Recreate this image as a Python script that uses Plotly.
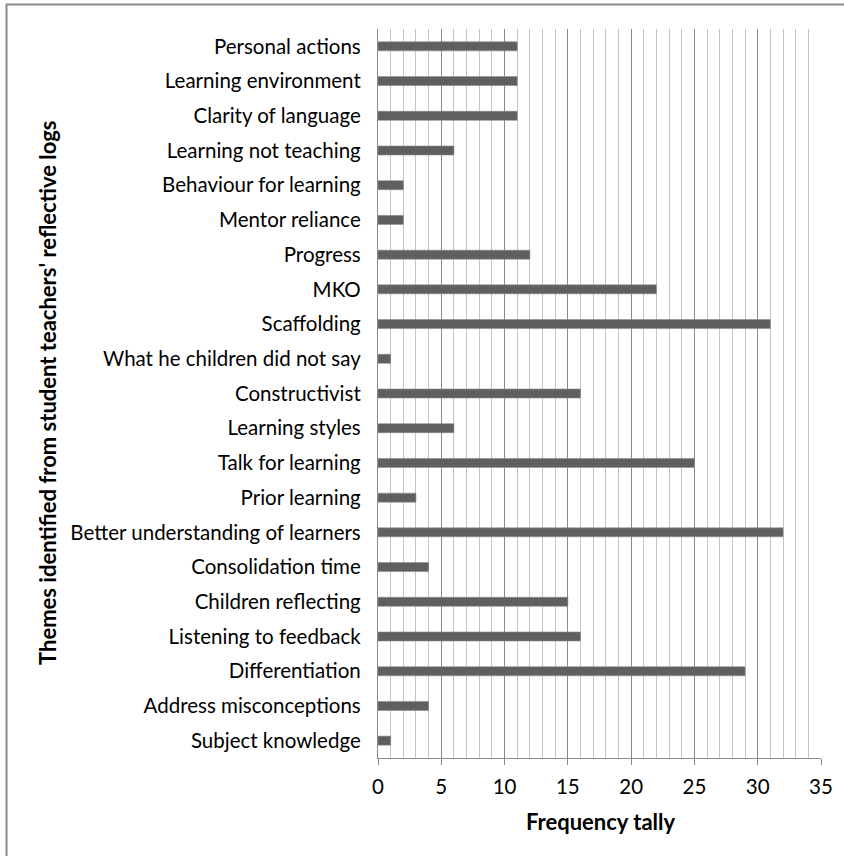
import plotly.graph_objects as go

# Themes, listed top to bottom as they appear on the chart
themes = [
    "Personal actions",
    "Learning environment",
    "Clarity of language",
    "Learning not teaching",
    "Behaviour for learning",
    "Mentor reliance",
    "Progress",
    "MKO",
    "Scaffolding",
    "What he children did not say",
    "Constructivist",
    "Learning styles",
    "Talk for learning",
    "Prior learning",
    "Better understanding of learners",
    "Consolidation time",
    "Children reflecting",
    "Listening to feedback",
    "Differentiation",
    "Address misconceptions",
    "Subject knowledge",
]
tally = [11, 11, 11, 6, 2, 2, 12, 22, 31, 1, 16, 6, 25, 3, 32, 4, 15, 16, 29, 4, 1]

x_ticks = [0, 5, 10, 15, 20, 25, 30, 35]

FONT = "Lato"
LABEL_SIZE = 20.5
TITLE_SIZE = 22
W, H = 844, 856
L, R, T, B = 378, 23, 29, 98

fig = go.Figure(
    go.Bar(
        x=tally,
        y=themes,
        orientation="h",
        marker=dict(color="#5f5f5f", line=dict(color="#8c8c8c", width=0.6)),
        hoverinfo="x+y",
    )
)

fig.update_layout(
    width=W,
    height=H,
    margin=dict(l=L, r=R, t=T, b=B),
    paper_bgcolor="white",
    plot_bgcolor="white",
    bargap=0.74,
    showlegend=False,
    font=dict(family=FONT, size=LABEL_SIZE, color="#000000"),
)

fig.update_xaxes(
    range=[0, 35],
    tickvals=x_ticks,
    ticktext=[str(v) for v in x_ticks],
    showgrid=True,
    gridcolor="#8a8a8a",
    gridwidth=1.3,
    minor=dict(dtick=1, tick0=0, showgrid=True, gridcolor="#c4c4c4", gridwidth=1.3, ticks=""),
    showline=True,
    linecolor="#8a8a8a",
    linewidth=1.3,
    ticks="outside",
    ticklen=6,
    tickcolor="#8a8a8a",
    tickwidth=1.3,
    ticklabelstandoff=4,
    tickfont=dict(family=FONT, size=LABEL_SIZE),
    zeroline=False,
    fixedrange=True,
)

fig.update_yaxes(
    categoryorder="array",
    categoryarray=themes[::-1],
    showgrid=False,
    showline=True,
    linecolor="#8a8a8a",
    linewidth=1.3,
    ticks="",
    ticklabelstandoff=12,
    tickfont=dict(family=FONT, size=LABEL_SIZE),
    fixedrange=True,
)

plot_w = W - L - R
plot_h = H - T - B

def px_to_x(px):
    return (px - L) / plot_w

def px_to_y(py):
    return (H - B - py) / plot_h

# Axis titles
fig.add_annotation(
    text="<b>Frequency tally</b>",
    xref="paper", yref="paper",
    x=px_to_x(601), y=px_to_y(821),
    xanchor="center", yanchor="middle",
    showarrow=False,
    font=dict(family=FONT, size=TITLE_SIZE, color="#000000"),
)
fig.add_annotation(
    text="<b>Themes identified from student teachers' reflective logs</b>",
    xref="paper", yref="paper",
    x=px_to_x(47), y=px_to_y(393),
    xanchor="center", yanchor="middle",
    textangle=-90,
    showarrow=False,
    font=dict(family=FONT, size=TITLE_SIZE, color="#000000"),
)

# Chart-area frame
fig.add_shape(
    type="rect",
    xref="paper", yref="paper",
    x0=px_to_x(6.5), y0=px_to_y(4.5),
    x1=px_to_x(W + 20), y1=px_to_y(H + 20),
    line=dict(color="#8a8a8a", width=2),
    fillcolor="rgba(0,0,0,0)",
    layer="above",
)

fig.write_html("out.html")
